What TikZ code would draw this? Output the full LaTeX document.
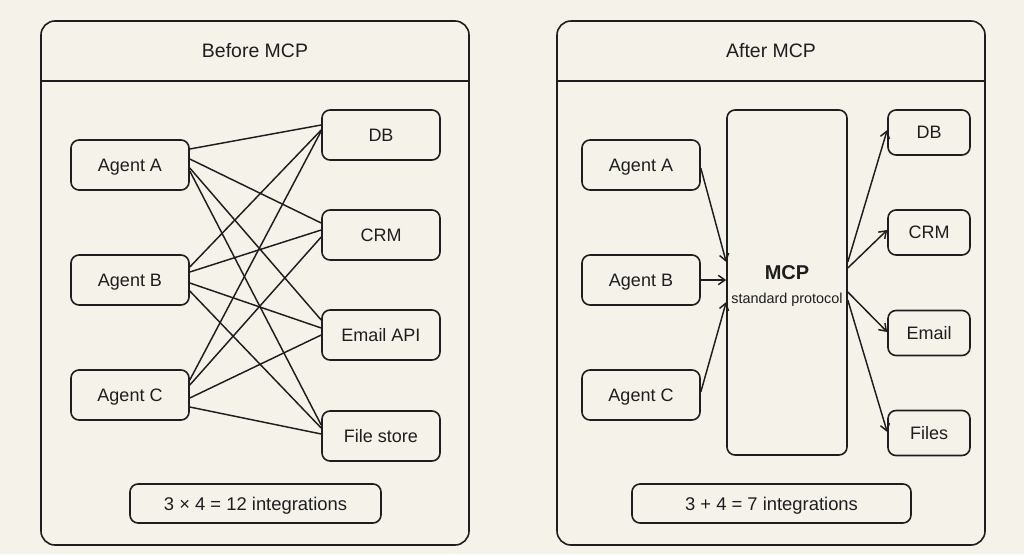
\documentclass[tikz,border=0pt]{standalone}
\usepackage{fontspec}
\setmainfont{Liberation Sans}
\usetikzlibrary{calc,arrows.meta}
\definecolor{bgc}{HTML}{F5F2EA}
\definecolor{ink}{HTML}{1E1E1E}
\begin{document}
\begin{tikzpicture}[x=0.75pt,y=-0.75pt,
  panel/.style={draw=ink,line width=1.2pt,rounded corners=10.5pt},
  box/.style={draw=ink,line width=1.2pt,rounded corners=6pt,fill=bgc,inner sep=0pt,font=\fontsize{13.5}{15}\selectfont,text=ink,text height=9.7pt,text depth=0pt},
  agentbox/.style={box,minimum width=88.5pt,minimum height=37.5pt},
  tgtbox/.style={box,minimum width=88.5pt,minimum height=37.5pt},
  tgtsmall/.style={box,minimum width=61.5pt,minimum height=33.75pt},
  sumbox/.style={box,minimum height=29.25pt,font=\fontsize{13.8}{15}\selectfont,text height=9.9pt},
  titletext/.style={font=\fontsize{14.6}{16}\selectfont,text=ink,text height=10.45pt,text depth=0pt},
  link/.style={draw=ink,line width=1.1pt},
  arr/.style={draw=ink,line width=1.1pt,-{Straight Barb[length=5pt,width=7pt]}}]
\fill[bgc] (0,0) rectangle (1024,554);
\useasboundingbox (0,0) rectangle (1024,554);
% ---------- left panel ----------
\draw[panel] (41,21) rectangle (469,545);
\draw[ink,line width=1.2pt] (41,81) -- (469,81);
\node[titletext] (t1) at (255,51) {Before MCP};
\node[agentbox] (la) at (130,165) {Agent A};
\node[agentbox] (lb) at (130,280) {Agent B};
\node[agentbox] (lc) at (130,395) {Agent C};
\node[tgtbox] (ldb) at (381,135) {DB};
\node[tgtbox] (lcrm) at (381,235) {CRM};
\node[tgtbox] (lem) at (381,335) {Email API};
\node[tgtbox] (lfs) at (381,436) {File store};
\node[sumbox,minimum width=188.25pt] (ls) at (255.5,503.5) {3 × 4 = 12 integrations};
% links
\draw[link] ($(la.east)+(0,-16)$) -- ($(ldb.west)+(0,-10)$);
\draw[link] ($(la.east)+(0,-6)$) -- ($(lcrm.west)+(0,-12)$);
\draw[link] ($(la.east)+(0,3)$) -- ($(lem.west)+(0,-15)$);
\draw[link] ($(la.east)+(0,6)$) -- ($(lfs.west)+(0,-11)$);
\draw[link] ($(lb.east)+(0,-13)$) -- ($(ldb.west)+(0,-5)$);
\draw[link] ($(lb.east)+(0,-8)$) -- ($(lcrm.west)+(0,-5)$);
\draw[link] ($(lb.east)+(0,3)$) -- ($(lem.west)+(0,-7)$);
\draw[link] ($(lb.east)+(0,11)$) -- ($(lfs.west)+(0,-8)$);
\draw[link] ($(lc.east)+(0,-15)$) -- ($(ldb.west)+(0,-4)$);
\draw[link] ($(lc.east)+(0,-10)$) -- ($(lcrm.west)+(0,2)$);
\draw[link] ($(lc.east)+(0,3)$) -- ($(lem.west)+(0,0)$);
\draw[link] ($(lc.east)+(0,12)$) -- ($(lfs.west)+(0,-2)$);
% ---------- right panel ----------
\draw[panel] (557,21) rectangle (985,545);
\draw[ink,line width=1.2pt] (557,81) -- (985,81);
\node[titletext] (t2) at (771,51) {After MCP};
\node[agentbox] (ra) at (641,165) {Agent A};
\node[agentbox] (rb) at (641,280) {Agent B};
\node[agentbox] (rc) at (641,395) {Agent C};
\node[box,minimum width=90pt,minimum height=258.75pt] (mcp) at (787,282.5) {};
\node[font=\fontsize{15}{16}\selectfont\bfseries,text=ink] (mcpt) at (787,273) {MCP};
\node[font=\fontsize{10.8}{12}\selectfont,text=ink] (mcps) at (787,300) {standard protocol};
\node[tgtsmall] (rdb) at (929,132.5) {DB};
\node[tgtsmall] (rcrm) at (929,232.5) {CRM};
\node[tgtsmall] (rem) at (929,333) {Email};
\node[tgtsmall] (rfs) at (929,433) {Files};
\node[sumbox,minimum width=209.25pt] (rs) at (771.5,503.5) {3 + 4 = 7 integrations};
\draw[arr] ($(ra.east)+(0,3)$) -- ($(mcp.west)+(0,-20.5)$);
\draw[arr] ($(rb.east)+(0,0)$) -- ($(mcp.west)+(0,-2.5)$);
\draw[arr] ($(rc.east)+(0,-3)$) -- ($(mcp.west)+(0,19.5)$);
\draw[arr] ($(mcp.east)+(0,-20.5)$) -- ($(rdb.west)+(0,-2.5)$);
\draw[arr] ($(mcp.east)+(0,-14.5)$) -- ($(rcrm.west)+(0,-2.5)$);
\draw[arr] ($(mcp.east)+(0,9.5)$) -- ($(rem.west)+(0,-1)$);
\draw[arr] ($(mcp.east)+(0,17.5)$) -- ($(rfs.west)+(0,-1)$);
\end{tikzpicture}
\end{document}
